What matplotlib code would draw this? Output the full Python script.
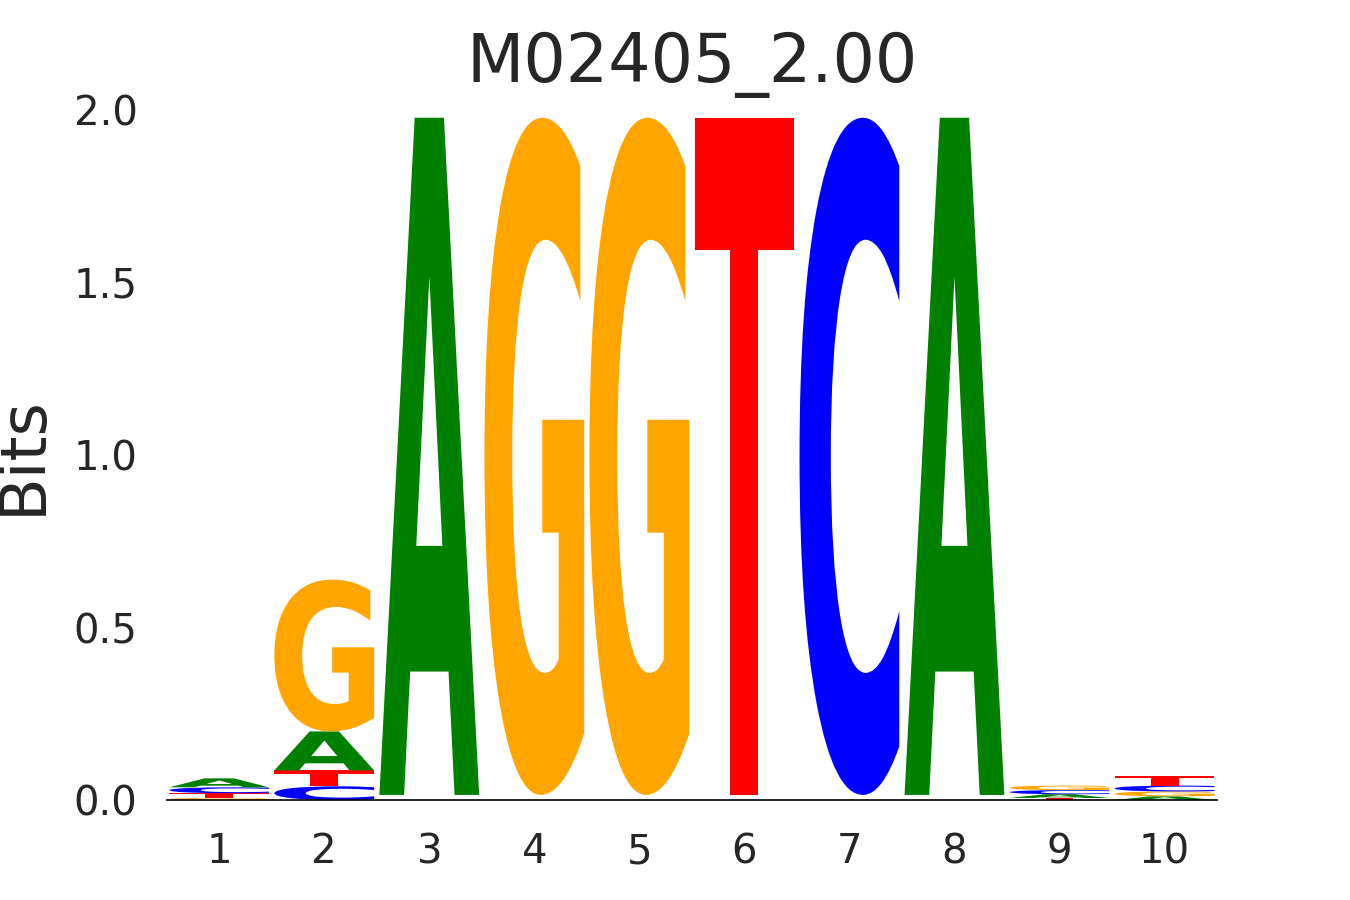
import numpy as np
import matplotlib
matplotlib.use("Agg")
import matplotlib.pyplot as plt
from matplotlib.textpath import TextPath
from matplotlib.patches import PathPatch
from matplotlib.font_manager import FontProperties
from matplotlib.transforms import Affine2D

# information content (bits) per base at each position
positions = [1, 2, 3, 4, 5, 6, 7, 8, 9, 10]
bases = ['A', 'C', 'G', 'T']
A = [0.026, 0.113, 1.962, 0.005, 0.005, 0.005, 0.005, 1.962, 0.011, 0.011]
C = [0.017, 0.040, 0.005, 0.005, 0.005, 0.005, 1.962, 0.005, 0.012, 0.017]
G = [0.006, 0.440, 0.005, 1.962, 1.962, 0.005, 0.005, 0.005, 0.013, 0.014]
T = [0.014, 0.046, 0.005, 0.005, 0.005, 1.962, 0.005, 0.005, 0.006, 0.029]
title = 'M02405_2.00'

colors = {'A': '#008000', 'C': '#0000ff', 'G': '#ffa500', 'T': '#ff0000'}
txt = '#262626'
fp = FontProperties(family='DejaVu Sans', weight='bold')
min_draw = 0.0055  # glyphs thinner than this are not rendered


def draw_letter(ax, letter, x, bottom, height, width=0.95):
    path = TextPath((0, 0), letter, size=1, prop=fp)
    ext = path.get_extents()
    tr = (Affine2D()
          .translate(-ext.x0, -ext.y0)
          .scale(width / ext.width, height / ext.height)
          .translate(x - width / 2, bottom))
    ax.add_patch(PathPatch(tr.transform_path(path), facecolor=colors[letter],
                           edgecolor='none'))


fig = plt.figure(figsize=(13.5, 9), dpi=100)
ax = fig.add_axes([0.1235, 0.111, 0.778, 0.767])

heights = np.array([A, C, G, T])
for i, p in enumerate(positions):
    col = heights[:, i]
    bottom = 0.0
    for j in np.argsort(col):
        if col[j] > min_draw:
            draw_letter(ax, bases[j], p, bottom, col[j])
        bottom += col[j]

ax.set_xlim(0.5, 10.5)
ax.set_ylim(0, 2.0)
ax.set_xticks(positions)
ax.set_yticks([0.0, 0.5, 1.0, 1.5, 2.0])
ax.set_yticklabels(['0.0', '0.5', '1.0', '1.5', '2.0'])
ax.tick_params(length=0, labelsize=29, labelcolor=txt)
ax.tick_params(axis='y', pad=21)
ax.tick_params(axis='x', pad=23)
for s in ['left', 'right', 'top']:
    ax.spines[s].set_visible(False)
ax.spines['bottom'].set_color('black')
ax.spines['bottom'].set_linewidth(1.2)
ax.set_ylabel('Bits', fontsize=46, color=txt, labelpad=14)
ax.set_title(title, fontsize=48, color=txt, pad=20)

fig.savefig('out.png', dpi=100)
